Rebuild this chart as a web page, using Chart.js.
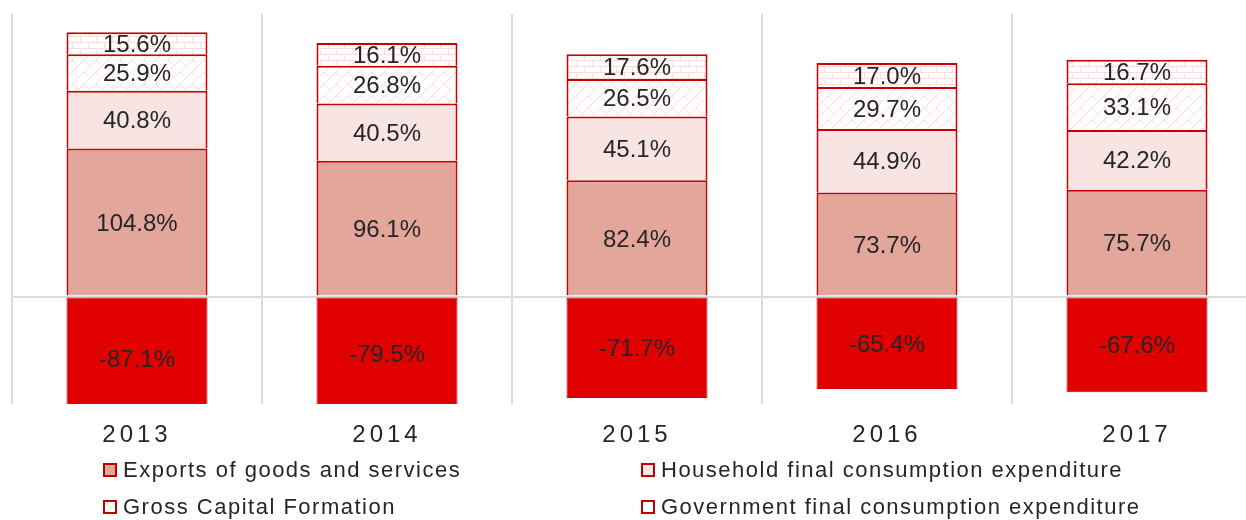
<!DOCTYPE html>
<html>
<head>
<meta charset="utf-8">
<script src="https://cdn.jsdelivr.net/npm/chart.js@4/dist/chart.umd.min.js"></script>
<style>
    html, body { margin: 0; padding: 0; background: #ffffff; }
    body { width: 1246px; height: 520px; overflow: hidden; position: relative; font-family: "Liberation Sans", Arial, sans-serif; }
    #caja { position: absolute; left: 0; top: 0; width: 1262px; height: 450px; }
    #leyenda { position: absolute; left: 0; top: 0; width: 1246px; height: 520px; pointer-events: none; }
    .item { position: absolute; display: flex; align-items: center; font-size: 22px; letter-spacing: 1.5px; color: #262626; line-height: 26px; white-space: nowrap; }
    .cuadro { width: 10px; height: 10px; border: 2px solid #c00000; margin-right: 6px; }
</style>
</head>
<body>
<div id="caja"><canvas id="grafica"></canvas></div>
<div id="leyenda"></div>
<script>
const years = ['2013', '2014', '2015', '2016', '2017'];
const exportsVals = [104.8, 96.1, 82.4, 73.7, 75.7];
const householdVals = [40.8, 40.5, 45.1, 44.9, 42.2];
const capitalVals = [25.9, 26.8, 26.5, 29.7, 33.1];
const governmentVals = [15.6, 16.1, 17.6, 17.0, 16.7];
const importsVals = [-87.1, -79.5, -71.7, -65.4, -67.6];

// Patron de ladrillos (gobierno)
function patronLadrillo() {
    const c = document.createElement('canvas');
    c.width = 16;
    c.height = 12;
    const g = c.getContext('2d');
    g.fillStyle = '#ffffff';
    g.fillRect(0, 0, 16, 12);
    g.strokeStyle = '#fcdcdc';
    g.lineWidth = 1;
    g.beginPath();
    g.moveTo(0, 0.5); g.lineTo(16, 0.5);
    g.moveTo(0, 6.5); g.lineTo(16, 6.5);
    g.moveTo(0.5, 0); g.lineTo(0.5, 6);
    g.moveTo(8.5, 6); g.lineTo(8.5, 12);
    g.stroke();
    return c;
}

// Patron diagonal (formacion de capital)
function patronDiagonal() {
    const c = document.createElement('canvas');
    c.width = 12;
    c.height = 12;
    const g = c.getContext('2d');
    g.fillStyle = '#ffffff';
    g.fillRect(0, 0, 12, 12);
    g.strokeStyle = '#fcdcdc';
    g.lineWidth = 1;
    g.beginPath();
    g.moveTo(0, 12); g.lineTo(12, 0);
    g.moveTo(-6, 6); g.lineTo(6, -6);
    g.moveTo(6, 18); g.lineTo(18, 6);
    g.moveTo(0, 0); g.lineTo(6, 6);
    g.stroke();
    return c;
}

const canvas = document.getElementById('grafica');
const ctx = canvas.getContext('2d');
const ladrillo = patronLadrillo();
const diagonal = patronDiagonal();

const bordePositivo = { top: 2, right: 2, bottom: 0, left: 2 };

const datasets = [
    { label: 'Exports of goods and services', data: exportsVals, backgroundColor: '#e2a69a', legendBg: '#e2a69a', borderWidth: bordePositivo },
    { label: 'Household final consumption expenditure', data: householdVals, backgroundColor: '#f8e4e2', legendBg: '#f8e4e2', borderWidth: bordePositivo },
    { label: 'Gross Capital Formation', data: capitalVals, backgroundColor: ctx.createPattern(diagonal, 'repeat'), legendBg: 'url(' + diagonal.toDataURL() + ')', borderWidth: bordePositivo },
    { label: 'Government final consumption expenditure', data: governmentVals, backgroundColor: ctx.createPattern(ladrillo, 'repeat'), legendBg: '#ffffff', borderWidth: bordePositivo },
    { label: 'Imports of goods and services', data: importsVals, backgroundColor: '#e00000', borderWidth: 1, hideLegend: true },
];

const etiquetas = {
    id: 'etiquetas',
    beforeDraw(chart) {
        chart.ctx.letterSpacing = '4px';
    },
    beforeDatasetsDraw(chart) {
        chart.ctx.letterSpacing = '0px';
    },
    afterDatasetsDraw(chart) {
        const c = chart.ctx;
        c.save();
        c.letterSpacing = '0px';
        c.font = '24px "Liberation Sans", Arial, sans-serif';
        c.fillStyle = '#262626';
        c.textAlign = 'center';
        c.textBaseline = 'middle';
        chart.data.datasets.forEach(function (ds, i) {
            const meta = chart.getDatasetMeta(i);
            meta.data.forEach(function (el, j) {
                c.fillText(ds.data[j].toFixed(1) + '%', el.x, (el.y + el.base) / 2 + 2);
            });
        });
        c.restore();
    },
};

new Chart(canvas, {
    type: 'bar',
    data: {
        labels: years,
        datasets: datasets.map(function (d) {
            return {
                label: d.label,
                data: d.data,
                backgroundColor: d.backgroundColor,
                borderColor: '#c80000',
                borderWidth: d.borderWidth,
                borderSkipped: false,
                barPercentage: 0.564,
                categoryPercentage: 1,
            };
        }),
    },
    options: {
        responsive: true,
        maintainAspectRatio: false,
        animation: false,
        events: [],
        layout: {
            padding: { top: 14, left: 12, right: 0, bottom: 0 },
        },
        plugins: {
            legend: { display: false },
            title: { display: false },
            tooltip: { enabled: false },
        },
        scales: {
            x: {
                stacked: true,
                afterFit: function (s) { s.height = 46; },
                border: { display: false },
                grid: {
                    offset: true,
                    color: '#dcdcdc',
                    lineWidth: 2,
                    drawTicks: false,
                },
                ticks: {
                    color: '#262626',
                    padding: 17,
                    font: { family: '"Liberation Sans", Arial, sans-serif', size: 24 },
                },
            },
            y: {
                stacked: true,
                min: -76,
                max: 200,
                afterFit: function (s) { s.width = 0; },
                border: { display: false },
                ticks: { display: false, stepSize: 4 },
                grid: {
                    drawTicks: false,
                    lineWidth: 2,
                    color: function (c) {
                        return c.tick && c.tick.value === 0 ? '#dcdcdc' : 'rgba(0,0,0,0)';
                    },
                },
            },
        },
    },
    plugins: [etiquetas],
});

// Leyenda en dos columnas, como en el original
const leyenda = document.getElementById('leyenda');
const posiciones = [[103, 457], [641, 457], [103, 494], [641, 494]];
datasets.filter(function (d) { return !d.hideLegend; }).forEach(function (d, i) {
    const item = document.createElement('div');
    item.className = 'item';
    item.style.left = posiciones[i][0] + 'px';
    item.style.top = posiciones[i][1] + 'px';
    const cuadro = document.createElement('span');
    cuadro.className = 'cuadro';
    cuadro.style.background = d.legendBg;
    const texto = document.createElement('span');
    texto.textContent = d.label;
    item.appendChild(cuadro);
    item.appendChild(texto);
    leyenda.appendChild(item);
});
</script>
</body>
</html>
